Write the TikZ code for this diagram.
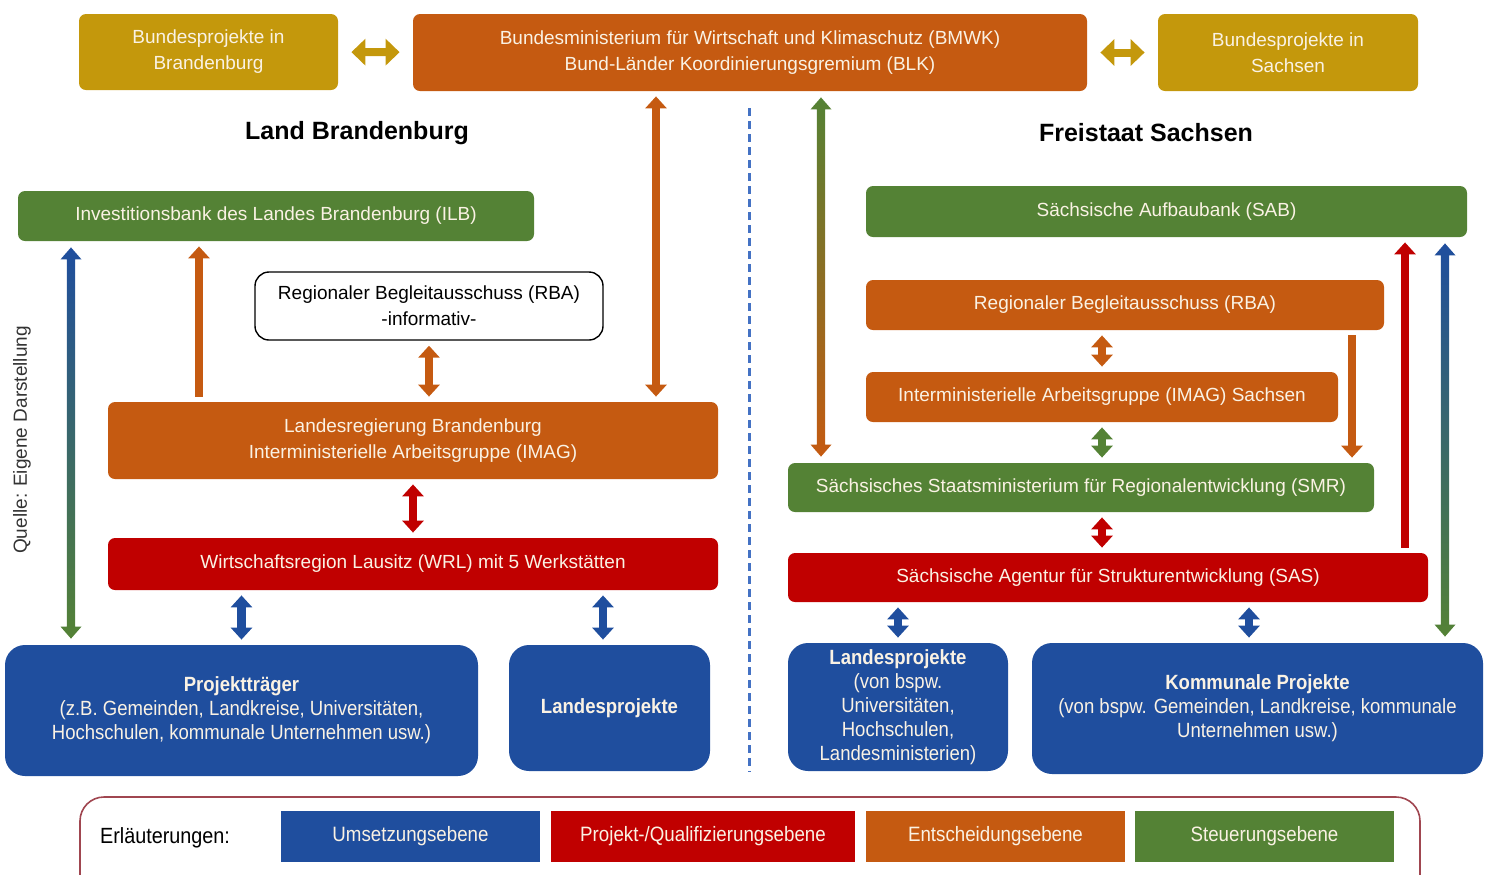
\documentclass[tikz,border=0pt]{standalone}
\usepackage{fontspec}
\setmainfont{Liberation Sans}
\newfontfamily\narrowfont[FakeStretch=0.9]{Liberation Sans}
\usetikzlibrary{positioning, calc, arrows.meta}

\definecolor{gold}{RGB}{196,152,12}
\definecolor{ochre}{RGB}{197,90,17}
\definecolor{leaf}{RGB}{84,130,53}
\definecolor{crimson}{RGB}{192,0,0}
\definecolor{navy}{RGB}{31,78,158}
\definecolor{cream}{RGB}{250,242,228}
\definecolor{dashblue}{RGB}{68,114,196}
\definecolor{frame}{RGB}{160,70,80}

% vertical double block arrow with a colour gradient
\newcommand\gradarrow[4]{%
  \shade[top color=#3, bottom color=#4] let \p1=(#1), \p2=(#2) in
    (\x1,\y1-3pt) -- (\x1+5.25pt,\y1-9pt) -- (\x1+2.1pt,\y1-9pt) -- (\x1+2.1pt,\y2+9pt)
    -- (\x1+5.25pt,\y2+9pt) -- (\x1,\y2+3pt) -- (\x1-5.25pt,\y2+9pt) -- (\x1-2.1pt,\y2+9pt)
    -- (\x1-2.1pt,\y1-9pt) -- (\x1-5.25pt,\y1-9pt) -- cycle;}

\begin{document}
\begin{tikzpicture}[x=0.5pt, y=-0.5pt,
    box/.style 2 args={rounded corners=3.5pt, minimum width=#1*0.5pt, minimum height=#2*0.5pt,
      inner sep=0pt, align=center, text=cream, font=\fontsize{9.5}{13}\selectfont},
    proj/.style 2 args={rounded corners=10pt, fill=navy, minimum width=#1*0.5pt, minimum height=#2*0.5pt,
      inner sep=0pt, align=center, text=cream, font=\narrowfont\fontsize{10.3}{12}\selectfont},
    key/.style={minimum width=#1*0.5pt, minimum height=25.5pt, inner sep=0pt, text=cream,
      font=\narrowfont\fontsize{10.4}{12}\selectfont},
    head/.style={font=\fontsize{12.5}{15}\selectfont\bfseries},
    dbl/.style={line width=4.2pt, {Triangle[width=10.5pt,length=6pt]}-{Triangle[width=10.5pt,length=6pt]},
      shorten <=2.5pt, shorten >=2.5pt},
    one/.style={line width=4.2pt, -{Triangle[width=10.5pt,length=6pt]}, shorten <=2.5pt, shorten >=2.5pt}]
  \clip (0,0) rectangle (1489,874);

  % Bund
  \node[box={259}{76}, fill=gold] (bbb) at (208.5,52) {Bundesprojekte in\\Brandenburg};
  \node[box={674}{77}, fill=ochre] (bmwk) at (750,52.5)
    {Bundesministerium für Wirtschaft und Klimaschutz (BMWK)\\Bund-Länder Koordinierungsgremium (BLK)};
  \node[box={260}{77}, fill=gold] (bbs) at (1288,52.5) {Bundesprojekte in\\Sachsen};
  \draw[dbl, draw=gold, line width=4pt, {Triangle[width=13pt,length=7pt]}-{Triangle[width=13pt,length=7pt]},
    shorten <=6.5pt, shorten >=6.5pt] (bbb) -- (bmwk);
  \draw[dbl, draw=gold, line width=4pt, {Triangle[width=13pt,length=7pt]}-{Triangle[width=13pt,length=7pt]},
    shorten <=6.5pt, shorten >=6.5pt] (bmwk) -- (bbs);

  \node[head] (landbb) at (357,133) {Land Brandenburg};
  \node[head] (landsn) at (1146,133) {Freistaat Sachsen};
  \draw[dashblue, line width=1.5pt, dash pattern=on 4pt off 2.5pt] (749,108) -- (749,772);

  % Brandenburg
  \node[box={516}{50}, fill=leaf] (ilb) at (276,216) {Investitionsbank des Landes Brandenburg (ILB)};
  \node[box={348}{68}, fill=white, draw=black, line width=0.7pt, rounded corners=7pt, text=black] (rbab)
    at (429,306) {Regionaler Begleitausschuss (RBA)\\-informativ-};
  \node[box={610}{77}, fill=ochre] (lrb) at (413,440.5) {Landesregierung Brandenburg\\Interministerielle Arbeitsgruppe (IMAG)};
  \node[box={610}{52}, fill=crimson] (wrl) at (413,564) {Wirtschaftsregion Lausitz (WRL) mit 5 Werkstätten};
  \node[proj={473}{131}] (ptr) at (241.5,710.5)
    {\textbf{Projektträger}\\(z.B. Gemeinden, Landkreise, Universitäten,\\Hochschulen, kommunale Unternehmen usw.)};
  \node[proj={201}{126}] (lpb) at (609.5,708) {\textbf{Landesprojekte}};

  \coordinate (xa) at (71,0);
  \coordinate (xb) at (199,0);
  \coordinate (xd) at (656,0);
  \coordinate (xg) at (603,0);
  \gradarrow{ilb.south -| xa}{ptr.north -| xa}{navy}{leaf}
  \draw[one, draw=ochre] (lrb.north -| xb) -- (ilb.south -| xb);
  \draw[dbl, draw=ochre] (rbab.south) -- (lrb.north -| rbab.south);
  \draw[dbl, draw=ochre] (bmwk.south -| xd) -- (lrb.north -| xd);
  \draw[dbl, draw=crimson] (lrb.south) -- (wrl.north);
  \draw[dbl, draw=navy] (wrl.south -| ptr.north) -- (ptr.north);
  \draw[dbl, draw=navy] (wrl.south -| xg) -- (lpb.north -| xg);

  % Sachsen
  \node[box={601}{51}, fill=leaf] (sab) at (1166.5,211.5) {Sächsische Aufbaubank (SAB)};
  \node[box={518}{50}, fill=ochre] (rbas) at (1125,305) {Regionaler Begleitausschuss (RBA)};
  \node[box={472}{50}, fill=ochre] (imags) at (1102,397) {Interministerielle Arbeitsgruppe (IMAG) Sachsen};
  \node[box={586}{49}, fill=leaf] (smr) at (1081,487.5) {Sächsisches Staatsministerium für Regionalentwicklung (SMR)};
  \node[box={640}{49}, fill=crimson] (sas) at (1108,577.5) {Sächsische Agentur für Strukturentwicklung (SAS)};
  \node[proj={220}{128}] (lps) at (898,707)
    {\textbf{Landesprojekte}\\(von bspw.\\Universitäten,\\Hochschulen,\\Landesministerien)};
  \node[proj={451}{131}] (kom) at (1257.5,708.5)
    {\textbf{Kommunale Projekte}\\(von bspw. Gemeinden, Landkreise, kommunale\\Unternehmen usw.)};

  \coordinate (xh) at (821,0);
  \coordinate (xj) at (1352,0);
  \coordinate (xk) at (1405,0);
  \coordinate (xl) at (1445,0);
  \coordinate (xn) at (1249,0);
  \gradarrow{bmwk.south -| xh}{smr.north -| xh}{leaf}{ochre}
  \draw[dbl, draw=ochre] (rbas.south -| imags.north) -- (imags.north);
  \draw[dbl, draw=leaf] (imags.south) -- (smr.north -| imags.south);
  \draw[one, draw=ochre] (rbas.south -| xj) -- (smr.north -| xj);
  \draw[dbl, draw=crimson] (smr.south -| imags.south) -- (sas.north -| imags.south);
  \draw[one, draw=crimson] (sas.north -| xk) -- (sab.south -| xk);
  \gradarrow{sab.south -| xl}{kom.north -| xl}{navy}{leaf}
  \draw[dbl, draw=navy] (sas.south -| lps.north) -- (lps.north);
  \draw[dbl, draw=navy] (sas.south -| xn) -- (kom.north -| xn);

  \node[rotate=90, font=\fontsize{9.5}{12}\selectfont, text=black!80] (quelle) at (22,440) {Quelle: Eigene Darstellung};

  % Legende
  \draw[frame, line width=0.8pt, rounded corners=12pt] (80,797) rectangle (1420,910);
  \node[anchor=west, font=\narrowfont\fontsize{11}{13}\selectfont] (erl) at (93,838) {Erläuterungen:};
  \node[key=259, fill=navy] (kumset) at (410.5,836.5) {Umsetzungsebene};
  \node[key=304, fill=crimson] (kprojekt) at (703,836.5) {Projekt-/Qualifizierungsebene};
  \node[key=259, fill=ochre] (kentsch) at (995.5,836.5) {Entscheidungsebene};
  \node[key=259, fill=leaf] (ksteuer) at (1264.5,836.5) {Steuerungsebene};
\end{tikzpicture}
\end{document}
